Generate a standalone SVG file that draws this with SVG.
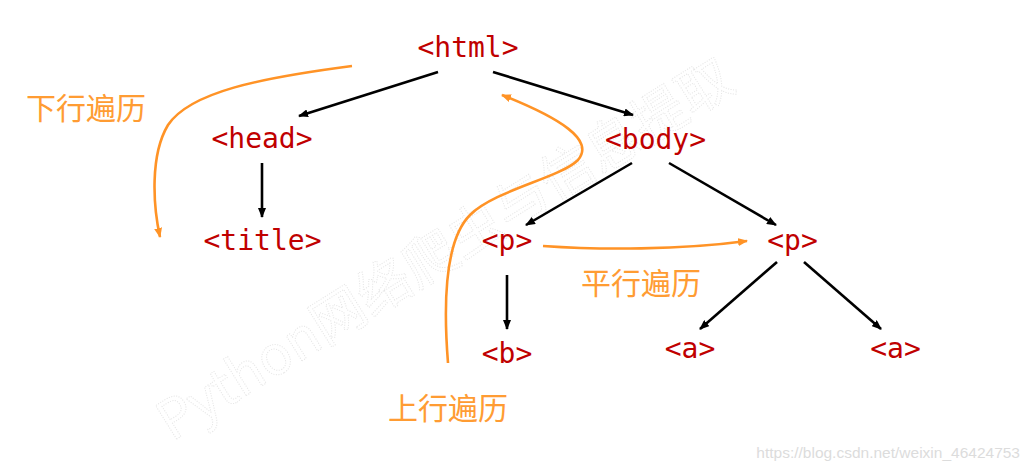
<svg xmlns="http://www.w3.org/2000/svg" width="1031" height="468" viewBox="0 0 1031 468">
<style>
.tag{font-family:"DejaVu Sans Mono","Liberation Mono",monospace;font-size:28px;fill:#C00000;text-anchor:middle}
.lbl{font-family:"Noto Sans CJK SC","Noto Sans",sans-serif;font-size:30px;fill:#FF9C33}
.edge{stroke:#000;stroke-width:2.6;fill:none;marker-end:url(#ah)}
.trav{stroke:#FF9326;stroke-width:2.6;fill:none;marker-end:url(#oh)}
.wm{font-family:"Noto Sans CJK SC","Noto Sans",sans-serif;font-size:54px;fill:none;stroke:#e6e6e6;stroke-width:1;stroke-dasharray:1 1.5}
.url{font-family:"Liberation Sans",Arial,sans-serif;font-size:15.5px;fill:#dcdcdc}
</style>
<defs>
<marker id="ah" viewBox="0 0 10 8" refX="9" refY="4" markerWidth="10" markerHeight="8" markerUnits="userSpaceOnUse" orient="auto">
<path d="M0,0 L10,4 L0,8 Z" fill="#000"/>
</marker>
<marker id="oh" viewBox="0 0 10 8" refX="9" refY="4" markerWidth="10" markerHeight="8" markerUnits="userSpaceOnUse" orient="auto">
<path d="M0,0 L10,4 L0,8 Z" fill="#FF9326"/>
</marker>
</defs>
<rect width="1031" height="468" fill="#fff"/>
<g id="watermark">
<text class="wm" transform="translate(172,442) rotate(-32)">Python网络爬虫与信息提取</text>
<text class="url" x="1020" y="458" text-anchor="end">https://blog.csdn.net/weixin_46424753</text>
</g>
<g id="connectors">
<path class="edge" d="M438,72 L299,116"/>
<path class="edge" d="M493,72 L633,115"/>
<path class="edge" d="M262,163 L262,217"/>
<path class="edge" d="M632,163 L526,225"/>
<path class="edge" d="M669,163 L776,225"/>
<path class="edge" d="M507,275 L507,329"/>
<path class="edge" d="M777,262 L700,329"/>
<path class="edge" d="M804,262 L881,329"/>
</g>
<g id="traversals">
<path class="trav" d="M352,66 C260,78 190,92 168,125 C150,155 153,205 160,237"/>
<path class="trav" d="M448,363 C443,300 445,240 470,215 C495,190 560,178 578,160 C595,140 560,118 502,95"/>
<path class="trav" d="M543,246 C600,250 680,250 747,241"/>
</g>
<g id="n-html"><text class="tag" x="468" y="57">&lt;html&gt;</text></g>
<g id="n-head"><text class="tag" x="262" y="148">&lt;head&gt;</text></g>
<g id="n-title"><text class="tag" x="262.5" y="250">&lt;title&gt;</text></g>
<g id="n-body"><text class="tag" x="655.5" y="149">&lt;body&gt;</text></g>
<g id="n-p1"><text class="tag" x="507" y="250">&lt;p&gt;</text></g>
<g id="n-p2"><text class="tag" x="792.5" y="250">&lt;p&gt;</text></g>
<g id="n-b"><text class="tag" x="507" y="363">&lt;b&gt;</text></g>
<g id="n-a1"><text class="tag" x="690" y="358">&lt;a&gt;</text></g>
<g id="n-a2"><text class="tag" x="895.5" y="358">&lt;a&gt;</text></g>
<g id="labels">
<text class="lbl" x="26" y="119">下行遍历</text>
<text class="lbl" x="581" y="294">平行遍历</text>
<text class="lbl" x="388" y="419">上行遍历</text>
</g>
</svg>
